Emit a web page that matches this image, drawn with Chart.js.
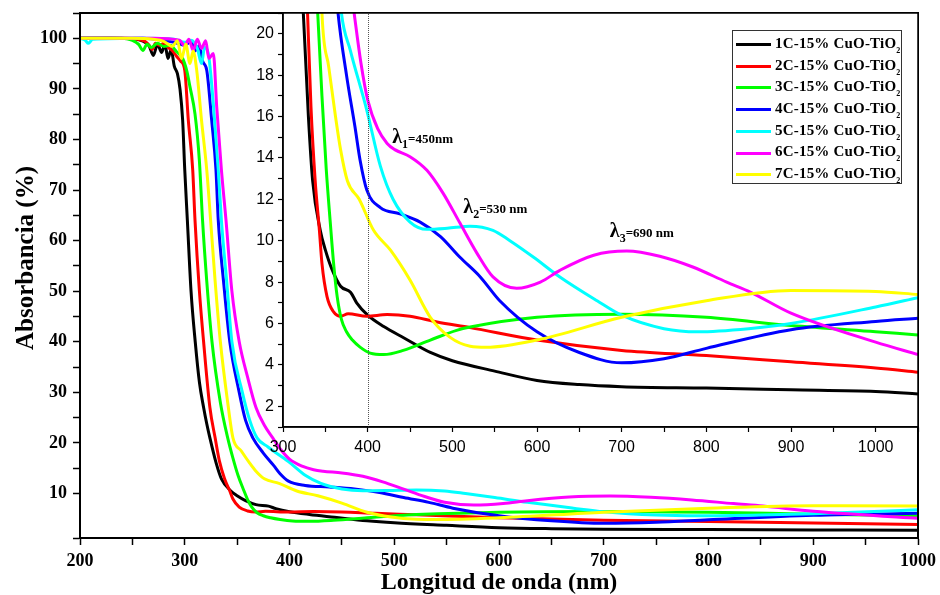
<!DOCTYPE html>
<html>
<head>
<meta charset="utf-8">
<script src="https://cdn.jsdelivr.net/npm/chart.js@4.4.1/dist/chart.umd.min.js"></script>
<style>
    body { margin: 0; background: #fff; }
    #wrap { position: relative; width: 940px; height: 595px; overflow: hidden; }
    #main { position: absolute; left: 0; top: 0; }
    #inset { position: absolute; left: 200px; top: 0; }
    #legend {
        position: absolute; left: 732px; top: 30px; width: 170px; height: 154px;
        border: 1px solid #333; background: #fff; box-sizing: border-box;
        padding-top: 2px;
        font-family: 'Liberation Serif', serif; font-weight: bold; font-size: 15px; color: #000;
    }
    #legend .row { height: 21.7px; line-height: 21.7px; white-space: nowrap; letter-spacing: 0.2px; }
    #legend .swatch { display: inline-block; width: 35px; height: 3px; margin: 0 4px 0 3px; vertical-align: middle; }
    #legend sub { font-size: 8px; vertical-align: -5px; line-height: 0; }
</style>
</head>
<body>
<div id="wrap">
    <canvas id="main" width="940" height="595"></canvas>
    <canvas id="inset" width="740" height="470"></canvas>
    <div id="legend"></div>
</div>
<script>
// series labels / colours
const seriesNames = ['1C-15% CuO-TiO', '2C-15% CuO-TiO', '3C-15% CuO-TiO', '4C-15% CuO-TiO',
    '5C-15% CuO-TiO', '6C-15% CuO-TiO', '7C-15% CuO-TiO'];
const seriesColors = ['#000000', '#ff0000', '#00ff00', '#0000ff', '#00ffff', '#ff00ff', '#ffff00'];

// wavelength (nm) / absorbance (%), one pair per sample
const nm1 = [200, 230, 250, 258, 262, 266, 270, 274, 278, 281, 284, 287, 290, 293, 295.5, 298, 300, 302.5, 306, 310, 314, 318, 321, 324, 330, 335, 344, 350, 358, 368, 380, 387, 400, 419, 443, 474, 500, 550, 600, 650, 700, 800, 900, 1000, 1050];
const abs1 = [100, 100, 99.9, 99.6, 99.2, 98.5, 96.6, 98.8, 97.2, 98.9, 96, 97.8, 94.5, 93, 89.9, 83.8, 74, 64, 50, 40, 32, 27, 23.8, 21, 16, 12.9, 10.5, 9.56, 8.6, 7.8, 7.5, 7.0, 6.4, 5.85, 5.3, 4.6, 4.2, 3.7, 3.25, 3.05, 2.95, 2.88, 2.8, 2.72, 2.6];

const nm2 = [200, 240, 255, 262, 266, 269, 272, 276, 280, 284, 288, 292, 296, 300, 303.4, 307.6, 309.8, 314, 318, 324, 329, 333, 338, 343, 346, 352, 360, 368, 377, 399, 423, 450, 482, 521, 600, 700, 800, 900, 1000, 1050];
const abs2 = [100, 100, 99.8, 99.4, 98.6, 97.8, 99, 98.6, 99, 98.2, 97.6, 96.5, 95.5, 93.7, 83.8, 74, 64, 50, 40, 27, 21, 16.5, 12.9, 10.5, 8.9, 7.3, 6.55, 6.35, 6.47, 6.35, 6.43, 6.35, 6.07, 5.8, 5.2, 4.7, 4.45, 4.15, 3.85, 3.65];

const nm3 = [200, 240, 250, 256, 260, 264, 268, 274, 280, 286, 292, 298, 302, 305, 309.8, 313.9, 317, 321, 326, 334, 341, 346, 351, 356, 360, 364, 369, 375, 382, 391, 403, 419, 442, 474, 505, 521, 600, 700, 800, 900, 1000, 1050];
const abs3 = [100, 100, 99.6, 98.8, 97.6, 98.8, 98.2, 99, 98.4, 98.6, 97.4, 96, 93.5, 90.4, 85, 76, 64, 52, 40, 28, 21, 17, 13.5, 10.8, 8.8, 7.3, 6.2, 5.6, 5.2, 4.86, 4.57, 4.5, 4.7, 5.2, 5.67, 5.83, 6.3, 6.45, 6.3, 5.9, 5.6, 5.45];

const nm4 = [200, 260, 280, 290, 300, 306, 310, 314, 317, 321, 325.7, 329.8, 332, 337, 343, 352, 358, 365, 375, 385, 391, 399, 415, 438, 462, 486, 509, 533, 556, 600, 650, 700, 750, 800, 900, 1000, 1050];
const abs4 = [100, 100, 99.6, 99.2, 98.6, 99.4, 97.5, 98.6, 95.5, 93.7, 83.8, 74, 64, 52, 40, 30, 24.5, 21, 18, 15.5, 13.9, 12.45, 11.6, 11.3, 10.9, 10.2, 9.2, 8.25, 7.1, 5.6, 4.6, 4.1, 4.3, 4.8, 5.7, 6.1, 6.25];

const nm5 = [200, 205, 208, 212, 260, 290, 300, 306, 312, 316, 319, 322.5, 327.3, 332, 335, 340, 345, 355, 362, 369, 379.5, 399, 415, 430, 450, 470, 494, 521, 548, 568, 596, 627, 671, 700, 750, 790, 850, 900, 1000, 1050];
const abs5 = [100, 99.6, 99, 99.8, 100, 99.8, 99.2, 99.6, 98, 95, 98.2, 97, 87, 74, 64, 52, 40, 30, 24.5, 21, 19.2, 16.3, 13.6, 12.0, 10.9, 10.55, 10.6, 10.7, 10.5, 10.0, 9.2, 8.25, 7.1, 6.4, 5.75, 5.6, 5.75, 6.0, 6.8, 7.25];

const nm6 = [200, 270, 295, 300, 304, 308, 312, 316, 320, 323, 327.3, 330.5, 335, 339.4, 345, 352, 360, 368, 376, 384, 392, 400, 412, 423, 432, 450, 470, 489, 509, 529, 548, 576, 604, 627, 667, 706, 745, 784, 824, 852, 900, 1000, 1050];
const abs6 = [100, 100, 99.6, 98.5, 99.8, 97.6, 99.8, 98, 99.5, 96, 97, 86.5, 74, 64, 50, 40, 33, 27, 23.5, 21, 18.6, 16.8, 15.4, 14.7, 14.4, 14.06, 13.4, 12.3, 10.85, 9.4, 8.25, 7.7, 8.0, 8.57, 9.3, 9.5, 9.25, 8.73, 8.0, 7.52, 6.5, 5.1, 4.5];

const nm7 = [200, 250, 270, 280, 288, 293, 297, 301, 305, 308, 311.4, 316, 321, 324.7, 329, 334, 341, 346, 354, 362, 368, 376, 390, 407, 427, 450, 474, 497, 521, 540, 600, 700, 800, 900, 1000, 1050];
const abs7 = [100, 100, 99.8, 99.4, 98.4, 99.5, 96, 98.8, 95, 97.5, 93.7, 83.8, 74, 64, 52, 40, 28, 21, 18.4, 16, 14.4, 12.9, 12, 10.5, 9.54, 8.1, 6.3, 5.34, 4.9, 4.85, 5.2, 6.3, 7.1, 7.6, 7.55, 7.4];

// band labels in the inset
const lambdaSub = ['1', '2', '3'];
const lambdaText = ['=450nm', '=530 nm', '=690 nm'];
const lambdaNm = [429, 513, 686];
const lambdaAbs = [14.72, 11.33, 10.17];

const allNm = [nm1, nm2, nm3, nm4, nm5, nm6, nm7];
const allAbs = [abs1, abs2, abs3, abs4, abs5, abs6, abs7];

function makeDatasets() {
    return allNm.map((xs, i) => ({
        label: seriesNames[i] + '2',
        data: xs.map((x, j) => ({ x: x, y: allAbs[i][j] })),
        borderColor: seriesColors[i],
        borderWidth: 3,
        pointRadius: 0,
        fill: false,
        cubicInterpolationMode: 'monotone',
        order: -i
    }));
}

const serifBold = 'Liberation Serif';

// no extra room for the end labels, the layout padding does that
function fitX(h) {
    return s => { s.height = h; s.paddingLeft = 0; s.paddingRight = 0; };
}
function fitY(w) {
    return s => { s.width = w; s.paddingTop = 0; s.paddingBottom = 0; };
}

// box around plot area
const framePlugin = {
    id: 'frame',
    afterDraw(chart, args, opts) {
        const a = chart.chartArea;
        const ctx = chart.ctx;
        ctx.save();
        ctx.strokeStyle = '#000';
        ctx.lineWidth = opts.width || 2;
        ctx.strokeRect(a.left, a.top, a.right - a.left, a.bottom - a.top);
        ctx.restore();
    }
};

// y title sits a bit above the middle of the axis in the original
const yTitlePlugin = {
    id: 'yTitle',
    afterDraw(chart) {
        const ctx = chart.ctx;
        ctx.save();
        ctx.translate(27, 258);
        ctx.rotate(-Math.PI / 2);
        ctx.font = 'bold 25px ' + serifBold;
        ctx.fillStyle = '#000';
        ctx.textAlign = 'center';
        ctx.textBaseline = 'middle';
        ctx.fillText('Absorbancia (%)', 0, 0);
        ctx.restore();
    }
};

// main chart
new Chart(document.getElementById('main').getContext('2d'), {
    type: 'line',
    data: { datasets: makeDatasets() },
    options: {
        responsive: false,
        animation: false,
        layout: { padding: { top: 13, right: 22, left: 0, bottom: 0 } },
        plugins: { legend: { display: false }, tooltip: { enabled: false }, frame: { width: 2 } },
        scales: {
            x: {
                type: 'linear', min: 200, max: 1000,
                afterFit: fitX(57),
                grid: { drawOnChartArea: false, tickLength: 7, tickColor: '#000', tickWidth: 1.5 },
                border: { color: '#000', width: 2 },
                ticks: {
                    stepSize: 50, autoSkip: false, maxRotation: 0, padding: 6, color: '#000',
                    font: { family: serifBold, weight: 'bold', size: 18 },
                    callback: v => (v % 100 === 0 ? v : '')
                },
                title: {
                    display: true, text: 'Longitud de onda (nm)', color: '#000',
                    font: { family: serifBold, weight: 'bold', size: 24 },
                    padding: { top: 0, bottom: -2 }
                }
            },
            y: {
                type: 'linear', min: 1.2, max: 105,
                afterFit: fitY(80),
                grid: { drawOnChartArea: false, tickLength: 7, tickColor: '#000', tickWidth: 1.5 },
                border: { color: '#000', width: 2 },
                ticks: {
                    stepSize: 5, autoSkip: false, padding: 6, color: '#000',
                    font: { family: serifBold, weight: 'bold', size: 18 },
                    callback: v => (v % 10 === 0 && v >= 10 && v <= 100 ? v : '')
                }
            }
        }
    },
    plugins: [framePlugin, yTitlePlugin]
});

// inset: white plot area, dotted line at 400 nm, band labels
const insetPlugin = {
    id: 'insetDeco',
    beforeDraw(chart) {
        const a = chart.chartArea;
        chart.ctx.save();
        chart.ctx.fillStyle = '#fff';
        chart.ctx.fillRect(a.left, a.top, a.right - a.left, a.bottom - a.top);
        chart.ctx.restore();
    },
    afterDatasetsDraw(chart) {
        const ctx = chart.ctx;
        const xs = chart.scales.x, ys = chart.scales.y;
        const a = chart.chartArea;
        ctx.save();
        // dotted marker
        const px = Math.round(xs.getPixelForValue(400)) + 0.5;
        ctx.strokeStyle = '#555';
        ctx.lineWidth = 1;
        ctx.setLineDash([1, 1]);
        ctx.beginPath();
        ctx.moveTo(px, a.bottom);
        ctx.lineTo(px, a.top);
        ctx.stroke();
        ctx.setLineDash([]);
        // lambda labels
        ctx.fillStyle = '#000';
        ctx.textBaseline = 'alphabetic';
        lambdaSub.forEach((sub, i) => {
            let x = xs.getPixelForValue(lambdaNm[i]);
            const y = ys.getPixelForValue(lambdaAbs[i]);
            ctx.font = 'bold 20px ' + serifBold;
            ctx.fillText('λ', x, y);
            x += ctx.measureText('λ').width;
            ctx.font = 'bold 12px ' + serifBold;
            ctx.fillText(sub, x, y + 5);
            x += ctx.measureText(sub).width;
            ctx.font = 'bold 13px ' + serifBold;
            ctx.fillText(lambdaText[i], x, y);
        });
        ctx.restore();
    }
};

new Chart(document.getElementById('inset').getContext('2d'), {
    type: 'line',
    data: { datasets: makeDatasets() },
    options: {
        responsive: false,
        animation: false,
        layout: { padding: { top: 13, right: 22, left: 0, bottom: 0 } },
        plugins: { legend: { display: false }, tooltip: { enabled: false }, frame: { width: 1.5 } },
        scales: {
            x: {
                type: 'linear', min: 300, max: 1050,
                afterFit: fitX(43),
                grid: { drawOnChartArea: false, tickLength: 5, tickColor: '#000', tickWidth: 1.2 },
                border: { color: '#000', width: 1.5 },
                ticks: {
                    stepSize: 50, autoSkip: false, maxRotation: 0, padding: 6, color: '#000',
                    font: { family: 'Liberation Sans', size: 16 },
                    callback: v => (v % 100 === 0 && v <= 1000 ? v : '')
                }
            },
            y: {
                type: 'linear', min: 1, max: 21,
                afterFit: fitY(83),
                grid: { drawOnChartArea: false, tickLength: 5, tickColor: '#000', tickWidth: 1.2 },
                border: { color: '#000', width: 1.5 },
                ticks: {
                    stepSize: 1, autoSkip: false, padding: 4, color: '#000',
                    font: { family: 'Liberation Sans', size: 16 },
                    callback: v => (v % 2 === 0 && v >= 2 && v <= 20 ? v : '')
                }
            }
        }
    },
    plugins: [insetPlugin, framePlugin]
});

// legend (HTML so the subscript stays real text)
const legend = document.getElementById('legend');
seriesNames.forEach((name, i) => {
    const row = document.createElement('div');
    row.className = 'row';
    const sw = document.createElement('span');
    sw.className = 'swatch';
    sw.style.background = seriesColors[i];
    row.appendChild(sw);
    row.appendChild(document.createTextNode(name));
    const sub = document.createElement('sub');
    sub.textContent = '2';
    row.appendChild(sub);
    legend.appendChild(row);
});
</script>
</body>
</html>
